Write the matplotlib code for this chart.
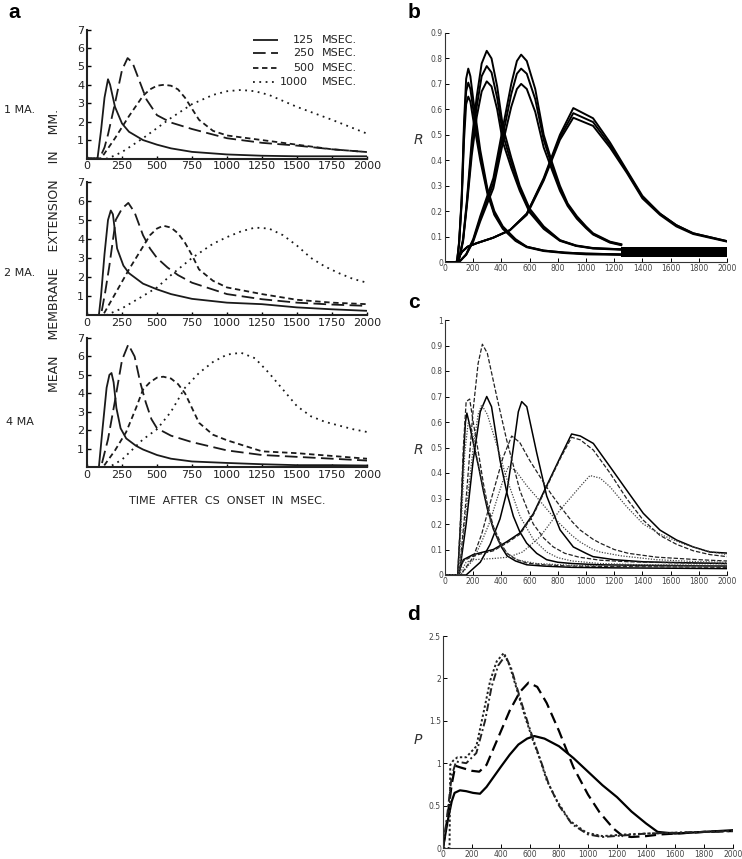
import numpy as np
import matplotlib
matplotlib.use('Agg')
from matplotlib import pyplot as plt

# ---------------- panel a : membrane extension (1, 2, 4 MA) ----------------
durations = ['125', '250', '500', '1000']
currents = ['1 MA.', '2 MA.', '4 MA']
a_xticks = [0, 250, 500, 750, 1000, 1250, 1500, 1750, 2000]
a_yticks = [1, 2, 3, 4, 5, 6, 7]

# 1 MA
t125_1 = [0, 75, 100, 125, 150, 165, 200, 250, 300, 400, 500, 600, 750, 1000, 1250, 1500, 1750, 2000]
y125_1 = [0, 0, 1.5, 3.3, 4.3, 4.0, 2.8, 1.9, 1.45, 1.0, 0.75, 0.55, 0.36, 0.22, 0.15, 0.12, 0.12, 0.12]
t250_1 = [0, 90, 125, 150, 200, 250, 290, 325, 375, 425, 500, 600, 750, 1000, 1250, 1500, 1750, 2000]
y250_1 = [0, 0, 0.6, 1.3, 3.0, 4.8, 5.45, 5.2, 4.2, 3.2, 2.35, 1.95, 1.6, 1.1, 0.85, 0.7, 0.5, 0.35]
t500_1 = [0, 100, 200, 300, 400, 450, 500, 550, 600, 650, 700, 750, 800, 900, 1000, 1250, 1500, 1750, 2000]
y500_1 = [0, 0, 1.1, 2.3, 3.4, 3.75, 3.95, 4.0, 3.95, 3.75, 3.3, 2.7, 2.1, 1.5, 1.25, 1.0, 0.75, 0.5, 0.35]
t1000_1 = [0, 150, 250, 400, 500, 600, 750, 900, 1000, 1100, 1200, 1300, 1500, 1750, 2000]
y1000_1 = [0, 0, 0.35, 1.1, 1.65, 2.2, 2.95, 3.45, 3.65, 3.72, 3.65, 3.45, 2.8, 2.1, 1.35]

# 2 MA
t125_2 = [0, 85, 100, 125, 150, 170, 185, 200, 215, 235, 260, 300, 400, 500, 600, 750, 1000, 1250, 1500, 1750, 2000]
y125_2 = [0, 0, 1.0, 3.2, 5.0, 5.5, 5.3, 4.4, 3.5, 3.1, 2.6, 2.2, 1.65, 1.35, 1.1, 0.85, 0.65, 0.57, 0.4, 0.3, 0.22]
t250_2 = [0, 100, 130, 160, 205, 250, 295, 340, 400, 450, 500, 575, 650, 750, 1000, 1250, 1500, 1750, 2000]
y250_2 = [0, 0, 1.2, 2.6, 5.0, 5.6, 5.9, 5.4, 4.2, 3.5, 3.0, 2.5, 2.1, 1.7, 1.1, 0.83, 0.65, 0.55, 0.48]
t500_2 = [0, 115, 200, 300, 400, 450, 500, 545, 600, 650, 700, 750, 800, 900, 1000, 1250, 1500, 1750, 2000]
y500_2 = [0, 0, 1.1, 2.4, 3.6, 4.2, 4.55, 4.7, 4.6, 4.3, 3.8, 3.15, 2.4, 1.8, 1.45, 1.1, 0.8, 0.65, 0.57]
t1000_2 = [0, 140, 250, 400, 500, 600, 750, 900, 1000, 1100, 1200, 1300, 1400, 1500, 1600, 1700, 1800, 1900, 2000]
y1000_2 = [0, 0, 0.35, 1.0, 1.45, 2.1, 3.0, 3.75, 4.1, 4.4, 4.6, 4.55, 4.2, 3.65, 3.0, 2.55, 2.2, 1.9, 1.7]

# 4 MA
t125_4 = [0, 85, 110, 140, 160, 175, 190, 210, 240, 280, 350, 400, 500, 600, 750, 1000, 1250, 1500, 1750, 2000]
y125_4 = [0, 0, 2.0, 4.3, 5.0, 5.1, 4.6, 3.2, 2.1, 1.55, 1.15, 0.95, 0.65, 0.45, 0.3, 0.22, 0.15, 0.1, 0.1, 0.08]
t250_4 = [0, 100, 150, 200, 250, 295, 340, 380, 420, 460, 500, 600, 750, 1000, 1250, 1500, 1750, 2000]
y250_4 = [0, 0, 1.5, 3.6, 5.8, 6.65, 6.0, 4.6, 3.5, 2.6, 2.1, 1.7, 1.35, 0.9, 0.65, 0.55, 0.45, 0.35]
t500_4 = [0, 115, 200, 280, 350, 400, 450, 500, 545, 600, 650, 700, 750, 800, 900, 1000, 1250, 1500, 1750, 2000]
y500_4 = [0, 0, 0.9, 1.9, 3.2, 4.2, 4.6, 4.85, 4.9, 4.8, 4.5, 4.0, 3.2, 2.4, 1.75, 1.45, 0.85, 0.75, 0.6, 0.45]
t1000_4 = [0, 160, 250, 400, 500, 600, 700, 800, 900, 1000, 1100, 1200, 1300, 1400, 1500, 1600, 1700, 1800, 1900, 2000]
y1000_4 = [0, 0, 0.4, 1.5, 2.05, 3.0, 4.3, 5.1, 5.7, 6.1, 6.2, 5.9, 5.1, 4.2, 3.3, 2.75, 2.45, 2.25, 2.05, 1.9]

# ---------------- panel b : R, four groups of three curves ----------------
b_xticks = [0, 200, 400, 600, 800, 1000, 1200, 1400, 1600, 1800, 2000]
b_yticks = [0, 0.1, 0.2, 0.3, 0.4, 0.5, 0.6, 0.7, 0.8, 0.9]
b_ylabels = ['0', '0.1', '0.2', '0.3', '0.4', '0.5', '0.6', '0.7', '0.8', '0.9']

tb1 = [0, 85, 100, 118, 135, 150, 165, 180, 200, 250, 300, 350, 410, 500, 580, 700, 850, 1000, 1250]
rb1_hi = [0, 0, 0.08, 0.25, 0.55, 0.72, 0.76, 0.73, 0.64, 0.44, 0.29, 0.2, 0.14, 0.09, 0.06, 0.045, 0.037, 0.033, 0.03]
rb1_md = [0, 0, 0.075, 0.24, 0.52, 0.67, 0.705, 0.68, 0.6, 0.42, 0.28, 0.19, 0.135, 0.085, 0.06, 0.045, 0.037, 0.033, 0.03]
rb1_lo = [0, 0, 0.07, 0.23, 0.48, 0.62, 0.65, 0.63, 0.56, 0.4, 0.27, 0.185, 0.13, 0.083, 0.058, 0.043, 0.035, 0.03, 0.028]

tb2 = [0, 95, 128, 155, 190, 225, 260, 296, 330, 370, 411, 470, 530, 600, 700, 815, 930, 1050, 1250]
rb2_hi = [0, 0, 0.09, 0.24, 0.48, 0.65, 0.78, 0.83, 0.8, 0.69, 0.53, 0.41, 0.3, 0.21, 0.14, 0.086, 0.065, 0.055, 0.05]
rb2_md = [0, 0, 0.085, 0.23, 0.45, 0.61, 0.73, 0.77, 0.745, 0.645, 0.5, 0.39, 0.29, 0.2, 0.135, 0.085, 0.064, 0.054, 0.05]
rb2_lo = [0, 0, 0.08, 0.22, 0.42, 0.57, 0.67, 0.71, 0.69, 0.6, 0.47, 0.37, 0.28, 0.195, 0.13, 0.083, 0.063, 0.053, 0.048]

tb3 = [0, 100, 150, 200, 250, 300, 343, 411, 470, 510, 540, 580, 640, 700, 760, 815, 870, 935, 1000, 1050, 1170, 1250]
rb3_hi = [0, 0, 0.03, 0.09, 0.18, 0.26, 0.33, 0.53, 0.7, 0.79, 0.815, 0.79, 0.68, 0.5, 0.39, 0.3, 0.23, 0.18, 0.14, 0.113, 0.08, 0.07]
rb3_md = [0, 0, 0.03, 0.085, 0.17, 0.245, 0.31, 0.5, 0.66, 0.74, 0.76, 0.74, 0.64, 0.48, 0.375, 0.29, 0.225, 0.175, 0.137, 0.11, 0.078, 0.068]
rb3_lo = [0, 0, 0.028, 0.08, 0.16, 0.23, 0.29, 0.47, 0.61, 0.68, 0.70, 0.68, 0.59, 0.45, 0.36, 0.28, 0.22, 0.17, 0.133, 0.108, 0.076, 0.066]

tb4 = [0, 80, 120, 160, 225, 340, 460, 580, 700, 815, 910, 1050, 1170, 1290, 1400, 1525, 1640, 1760, 2000]
rb4_hi = [0, 0, 0.04, 0.06, 0.074, 0.095, 0.125, 0.19, 0.33, 0.5, 0.605, 0.565, 0.47, 0.36, 0.26, 0.19, 0.145, 0.113, 0.082]
rb4_md = [0, 0, 0.04, 0.06, 0.074, 0.095, 0.125, 0.19, 0.325, 0.49, 0.585, 0.55, 0.46, 0.355, 0.255, 0.19, 0.145, 0.113, 0.082]
rb4_lo = [0, 0, 0.04, 0.06, 0.074, 0.095, 0.125, 0.185, 0.32, 0.48, 0.567, 0.535, 0.45, 0.35, 0.25, 0.185, 0.14, 0.11, 0.08]

# dense oscillating tails drawn as a solid black band
band_t = [1250, 2000]
band_lo = [0.018, 0.018]
band_hi = [0.058, 0.058]

# ---------------- panel c : R, solid / dashed / dotted variants ----------------
c_yticks = [0, 0.1, 0.2, 0.3, 0.4, 0.5, 0.6, 0.7, 0.8, 0.9, 1]
c_ylabels = ['0', '0.1', '0.2', '0.3', '0.4', '0.5', '0.6', '0.7', '0.8', '0.9', '1']

tc1s = [0, 90, 110, 130, 145, 155, 170, 200, 240, 272, 300, 343, 400, 440, 500, 580, 700, 900, 1200, 1500, 2000]
rc1s = [0, 0, 0.2, 0.45, 0.6, 0.635, 0.6, 0.52, 0.42, 0.33, 0.26, 0.18, 0.11, 0.075, 0.055, 0.04, 0.035, 0.03, 0.028, 0.027, 0.025]
tc1d = [0, 90, 110, 130, 150, 175, 200, 240, 272, 300, 343, 400, 440, 500, 580, 700, 900, 1200, 1500, 2000]
rc1d = [0, 0, 0.22, 0.5, 0.68, 0.69, 0.6, 0.47, 0.36, 0.28, 0.19, 0.12, 0.085, 0.062, 0.047, 0.04, 0.035, 0.033, 0.032, 0.03]
tc1o = [0, 95, 120, 140, 165, 190, 230, 272, 320, 380, 440, 520, 650, 900, 1200, 1500, 2000]
rc1o = [0, 0, 0.25, 0.48, 0.6, 0.57, 0.45, 0.34, 0.22, 0.13, 0.085, 0.058, 0.045, 0.038, 0.036, 0.035, 0.035]

tc2s = [0, 100, 150, 200, 250, 296, 330, 390, 440, 485, 530, 579, 650, 721, 800, 900, 1100, 1400, 2000]
rc2s = [0, 0, 0.2, 0.45, 0.64, 0.70, 0.66, 0.45, 0.32, 0.23, 0.17, 0.125, 0.085, 0.06, 0.05, 0.045, 0.04, 0.038, 0.035]
tc2d = [0, 100, 150, 200, 235, 265, 300, 367, 437, 532, 626, 700, 768, 850, 950, 1100, 1300, 1600, 2000]
rc2d = [0, 0, 0.3, 0.65, 0.83, 0.905, 0.87, 0.70, 0.53, 0.33, 0.2, 0.145, 0.11, 0.085, 0.07, 0.058, 0.052, 0.048, 0.045]
tc2o = [0, 100, 150, 200, 235, 260, 300, 367, 437, 532, 626, 721, 800, 900, 1100, 1400, 2000]
rc2o = [0, 0, 0.25, 0.5, 0.63, 0.667, 0.63, 0.51, 0.38, 0.23, 0.14, 0.09, 0.068, 0.055, 0.045, 0.04, 0.038]

tc3s = [0, 150, 250, 320, 390, 440, 485, 520, 544, 580, 650, 721, 816, 910, 1000, 1050, 1200, 1400, 1700, 2000]
rc3s = [0, 0, 0.05, 0.12, 0.22, 0.33, 0.5, 0.64, 0.68, 0.66, 0.48, 0.31, 0.177, 0.11, 0.085, 0.072, 0.06, 0.052, 0.048, 0.045]
tc3d = [0, 110, 200, 260, 319, 370, 411, 473, 530, 600, 674, 750, 816, 900, 957, 1050, 1100, 1200, 1300, 1500, 1800, 2000]
rc3d = [0, 0, 0.07, 0.16, 0.28, 0.38, 0.46, 0.545, 0.52, 0.45, 0.385, 0.32, 0.27, 0.21, 0.177, 0.14, 0.125, 0.1, 0.085, 0.07, 0.06, 0.055]
tc3o = [0, 110, 200, 260, 319, 370, 411, 449, 500, 580, 674, 750, 816, 900, 957, 1050, 1100, 1250, 1500, 1800, 2000]
rc3o = [0, 0, 0.06, 0.13, 0.21, 0.3, 0.37, 0.425, 0.41, 0.35, 0.29, 0.24, 0.2, 0.155, 0.13, 0.1, 0.09, 0.075, 0.06, 0.052, 0.05]

tc4 = [0, 90, 130, 200, 343, 437, 532, 626, 721, 816, 898, 960, 1052, 1170, 1288, 1406, 1525, 1643, 1761, 1879, 2000]
rc4s = [0, 0, 0.06, 0.08, 0.1, 0.13, 0.165, 0.24, 0.35, 0.46, 0.553, 0.545, 0.516, 0.425, 0.333, 0.242, 0.176, 0.137, 0.11, 0.09, 0.086]
rc4d = [0, 0, 0.055, 0.075, 0.095, 0.125, 0.16, 0.235, 0.345, 0.455, 0.54, 0.53, 0.49, 0.40, 0.30, 0.215, 0.155, 0.12, 0.095, 0.08, 0.072]
tc4o = [0, 100, 150, 200, 350, 450, 550, 674, 816, 957, 1028, 1100, 1170, 1288, 1406, 1525, 1700, 1850, 2000]
rc4o = [0, 0, 0.05, 0.06, 0.065, 0.07, 0.09, 0.15, 0.255, 0.346, 0.39, 0.38, 0.346, 0.268, 0.2, 0.16, 0.12, 0.095, 0.08]

# ---------------- panel d : P ----------------
d_yticks = [0, 0.5, 1, 1.5, 2, 2.5]
d_ylabels = ['0', '0.5', '1', '1.5', '2', '2.5']

td_s = [0, 30, 60, 80, 117, 160, 207, 255, 300, 350, 400, 460, 520, 580, 630, 700, 800, 900, 1000, 1100, 1200, 1300, 1400, 1480, 1600, 1800, 2000]
pd_s = [0, 0.3, 0.55, 0.65, 0.68, 0.67, 0.65, 0.64, 0.72, 0.84, 0.96, 1.1, 1.22, 1.29, 1.32, 1.29, 1.2, 1.06, 0.9, 0.74, 0.6, 0.43, 0.29, 0.19, 0.17, 0.19, 0.21]
td_d = [0, 30, 60, 85, 120, 200, 250, 300, 350, 400, 460, 530, 590, 650, 715, 800, 900, 1000, 1080, 1175, 1240, 1300, 1400, 1500, 1600, 1800, 2000]
pd_d = [0, 0.35, 0.75, 0.97, 0.95, 0.91, 0.9, 0.98, 1.18, 1.38, 1.62, 1.84, 1.95, 1.9, 1.71, 1.38, 0.95, 0.63, 0.42, 0.23, 0.14, 0.13, 0.14, 0.16, 0.17, 0.19, 0.2]
td_o = [0, 45, 50, 70, 100, 160, 230, 280, 325, 370, 420, 460, 530, 575, 620, 670, 715, 785, 875, 990, 1100, 1260, 1400, 1600, 1800, 2000]
pd_o = [0, 0, 0.98, 1.03, 1.07, 1.07, 1.2, 1.6, 1.97, 2.2, 2.3, 2.15, 1.75, 1.5, 1.27, 1.04, 0.8, 0.56, 0.32, 0.18, 0.14, 0.16, 0.17, 0.18, 0.19, 0.2]
td_dd = [0, 30, 60, 90, 160, 230, 290, 335, 380, 430, 470, 540, 590, 635, 680, 730, 800, 890, 1000, 1100, 1260, 1400, 1600, 1800, 2000]
pd_dd = [0, 0.4, 0.85, 1.02, 1.0, 1.12, 1.5, 1.9, 2.15, 2.27, 2.12, 1.72, 1.45, 1.22, 1.0, 0.75, 0.5, 0.28, 0.16, 0.13, 0.15, 0.17, 0.18, 0.19, 0.2]


W, H = 742, 859


def frac(left, top, right, bottom):
    return [left / W, 1 - bottom / H, (right - left) / W, (bottom - top) / H]


fig = plt.figure(figsize=(7.42, 8.59), dpi=100)

# line styles for the four CS durations in panel a
a_styles = {'125': (0, ()), '250': (0, (7, 3)), '500': (0, (3, 2)), '1000': (0, (1, 2.5))}

a_data = [
    [(t125_1, y125_1), (t250_1, y250_1), (t500_1, y500_1), (t1000_1, y1000_1)],
    [(t125_2, y125_2), (t250_2, y250_2), (t500_2, y500_2), (t1000_2, y1000_2)],
    [(t125_4, y125_4), (t250_4, y250_4), (t500_4, y500_4), (t1000_4, y1000_4)],
]
a_boxes = [(29.5, 158.5), (182, 315), (338, 467)]
a_rowlabel_y = [110, 273, 422]

for k, (top, bottom) in enumerate(a_boxes):
    ax = fig.add_axes(frac(87, top, 367, bottom))
    for dur, (t, y) in zip(durations, a_data[k]):
        ax.plot(t, y, color='#1a1a1a', lw=1.3, linestyle=a_styles[dur])
    ax.set_xlim(0, 2000)
    ax.set_ylim(0, 7)
    ax.set_xticks(a_xticks)
    ax.set_xticklabels([str(v) for v in a_xticks], fontsize=8, color='#222')
    ax.set_yticks(a_yticks)
    ax.set_yticklabels([str(v) for v in a_yticks], fontsize=8, color='#222')
    ax.tick_params(direction='in', length=3, width=1, pad=2)
    ax.tick_params(axis='x', length=2)
    for s in ['top', 'right']:
        ax.spines[s].set_visible(False)
    for s in ['left', 'bottom']:
        ax.spines[s].set_linewidth(1.5)
        ax.spines[s].set_color('#222')
    fig.text(20 / W, 1 - a_rowlabel_y[k] / H, currents[k], fontsize=8,
             ha='center', va='center', color='#222')
    if k == 0:
        # hand-drawn style legend
        leg_y = [0.919, 0.818, 0.702, 0.593]
        for dur, yy in zip(durations, leg_y):
            ax.plot([0.593, 0.682], [yy, yy], transform=ax.transAxes,
                    color='#1a1a1a', lw=1.3, linestyle=a_styles[dur])
            ax.text(0.81 if dur != '1000' else 0.79, yy, dur, transform=ax.transAxes,
                    fontsize=8, ha='right', va='center', color='#222')
            ax.text(0.84, yy, 'MSEC.', transform=ax.transAxes,
                    fontsize=8, ha='left', va='center', color='#222')
    if k == 2:
        ax.set_xlabel('TIME  AFTER  CS  ONSET  IN  MSEC.', fontsize=8, color='#222', labelpad=12)

fig.text(55 / W, 1 - 250 / H, 'MEAN    MEMBRANE    EXTENSION    IN    MM.', rotation=90,
         fontsize=9, ha='center', va='center', color='#222')


def style_model_axes(ax, yticks, ylabels, ymax, ylabel, label_y):
    ax.set_xlim(0, 2000)
    ax.set_ylim(0, ymax)
    ax.set_xticks(b_xticks)
    ax.set_xticklabels([str(v) for v in b_xticks], fontsize=5.5, color='#444')
    ax.set_yticks(yticks)
    ax.set_yticklabels(ylabels, fontsize=5.5, color='#444')
    ax.tick_params(direction='in', length=3, width=0.7, pad=1.5)
    for s in ['top', 'right']:
        ax.spines[s].set_visible(False)
    for s in ['left', 'bottom']:
        ax.spines[s].set_linewidth(0.8)
        ax.spines[s].set_color('#333')
    fig.text(418 / W, 1 - label_y / H, ylabel, fontsize=10, style='italic',
             ha='center', va='center', color='#333')


# panel b
axb = fig.add_axes(frac(445, 33, 727, 262))
for t, curves in [(tb1, [rb1_hi, rb1_md, rb1_lo]), (tb2, [rb2_hi, rb2_md, rb2_lo]),
                  (tb3, [rb3_hi, rb3_md, rb3_lo]), (tb4, [rb4_hi, rb4_md, rb4_lo])]:
    for r in curves:
        axb.plot(t, r, color='black', lw=1.4)
axb.fill_between(band_t, band_lo, band_hi, color='black', lw=0)
style_model_axes(axb, b_yticks, b_ylabels, 0.9, 'R', 140)

# panel c
axc = fig.add_axes(frac(445, 320, 727, 575))
c_solid = dict(color='black', lw=1.1, linestyle='-')
c_dash = dict(color='#222', lw=0.9, linestyle=(0, (3.5, 1.5)))
c_dot = dict(color='#444', lw=0.9, linestyle=(0, (1, 1.2)))
for t, r in [(tc1s, rc1s), (tc2s, rc2s), (tc3s, rc3s), (tc4, rc4s)]:
    axc.plot(t, r, **c_solid)
for t, r in [(tc1d, rc1d), (tc2d, rc2d), (tc3d, rc3d), (tc4, rc4d)]:
    axc.plot(t, r, **c_dash)
for t, r in [(tc1o, rc1o), (tc2o, rc2o), (tc3o, rc3o), (tc4o, rc4o)]:
    axc.plot(t, r, **c_dot)
style_model_axes(axc, c_yticks, c_ylabels, 1.0, 'R', 450)

# panel d
axd = fig.add_axes(frac(443, 636, 733, 848))
axd.plot(td_s, pd_s, color='black', lw=1.6)
axd.plot(td_d, pd_d, color='black', lw=1.6, linestyle=(0, (5, 2.5)))
axd.plot(td_o, pd_o, color='#222', lw=1.4, linestyle=(0, (1.2, 1.2)))
axd.plot(td_dd, pd_dd, color='#222', lw=1.4, linestyle=(0, (4, 1.5, 1, 1.5)))
style_model_axes(axd, d_yticks, d_ylabels, 2.5, 'P', 740)

# panel letters
for letter, (x, y) in zip('abcd', [(14, 13), (414, 13), (414, 302), (414, 614)]):
    fig.text(x / W, 1 - y / H, letter, fontsize=15, fontweight='bold',
             ha='center', va='center', family='Liberation Sans')

fig.savefig('out.png', dpi=100)
